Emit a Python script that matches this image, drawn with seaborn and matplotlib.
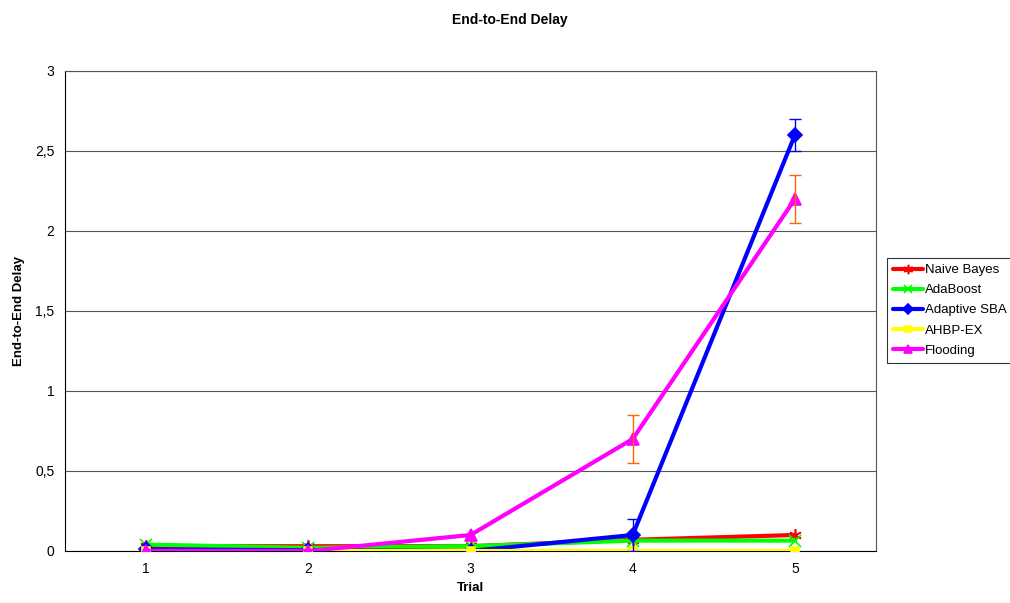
import pandas as pd
import seaborn as sns
import matplotlib.pyplot as plt

sns.set_style("white")
plt.rcParams['font.family'] = ['Liberation Sans', 'DejaVu Sans']
plt.rcParams['text.color'] = 'black'
plt.rcParams['axes.labelcolor'] = 'black'
plt.rcParams['xtick.color'] = 'black'
plt.rcParams['ytick.color'] = 'black'

trials = [1, 2, 3, 4, 5]
naive_bayes = [0.03, 0.03, 0.03, 0.07, 0.10]
adaboost = [0.04, 0.02, 0.03, 0.065, 0.065]
adaptive_sba = [0.01, 0.005, 0.0, 0.10, 2.60]
ahbp_ex = [0.0, 0.0, 0.0, 0.0, 0.0]
flooding = [0.0, 0.0, 0.10, 0.70, 2.20]

# error bars (only at trials 4 and 5)
sba_err = [0, 0, 0, 0.10, 0.10]
flood_err = [0, 0, 0, 0.15, 0.15]

series = ["Naive Bayes", "AdaBoost", "Adaptive SBA", "AHBP-EX", "Flooding"]
values = [naive_bayes, adaboost, adaptive_sba, ahbp_ex, flooding]
colors = ["#ff0000", "#00ff00", "#0000ff", "#ffff00", "#ff00ff"]
markers = [(6, 2, 0), "x", "D", "s", "^"]
msizes = [9, 8, 7, 6, 8]

rows = []
for name, vals in zip(series, values):
    for t, v in zip(trials, vals):
        rows.append({"Trial": t, "delay": v, "series": name})
df = pd.DataFrame(rows)

fig = plt.figure(figsize=(10.1, 6.03), dpi=100)
ax = fig.add_axes([65 / 1010, 1 - 551 / 603, (876 - 65) / 1010, (551 - 71) / 603])

for name, c, m, ms in zip(series, colors, markers, msizes):
    sub = df[df.series == name]
    sns.lineplot(data=sub, x="Trial", y="delay", ax=ax, color=c, lw=3,
                 marker=m, ms=ms, mec=c, mew=1.2,
                 label=name, zorder=3)

idx = [3, 4]
ax.errorbar([trials[i] for i in idx], [adaptive_sba[i] for i in idx],
            yerr=[sba_err[i] for i in idx], fmt="none", ecolor="#0000ff",
            elinewidth=1, capsize=4, zorder=4)
ax.errorbar([trials[i] for i in idx], [flooding[i] for i in idx],
            yerr=[flood_err[i] for i in idx], fmt="none", ecolor="#ff6600",
            elinewidth=1, capsize=4, zorder=4)

ax.set_xlim(0.5, 5.5)
ax.set_ylim(0, 3)
ax.set_xticks(trials)
ax.set_xticks([1.5, 2.5, 3.5, 4.5], minor=True)
ax.set_yticks([0, 0.5, 1, 1.5, 2, 2.5, 3])
ax.set_yticklabels(["0", "0,5", "1", "1,5", "2", "2,5", "3"])
ax.tick_params(axis="x", which="major", length=0, labelsize=10, pad=8)
ax.tick_params(axis="x", which="minor", length=4, direction="out", width=0.8)
ax.tick_params(axis="y", length=4, direction="out", width=0.8, labelsize=10)
ax.yaxis.grid(True, color="#555555", lw=0.8)
for s in ["top", "right"]:
    ax.spines[s].set_color("#555555")
    ax.spines[s].set_linewidth(0.8)
for s in ["left", "bottom"]:
    ax.spines[s].set_color("black")
    ax.spines[s].set_linewidth(0.8)

ax.set_xlabel("Trial", fontsize=9.5, fontweight="bold")
ax.set_ylabel("End-to-End Delay", fontsize=9.5, fontweight="bold", labelpad=7)
fig.text(510 / 1010, 1 - 20 / 603, "End-to-End Delay", ha="center", va="center",
         fontsize=10, fontweight="bold")

leg = ax.legend(loc="upper left", bbox_to_anchor=(887 / 1010, 1 - 258 / 603),
                bbox_transform=fig.transFigure, frameon=True, fancybox=False,
                fontsize=9.5, handlelength=2.3, borderpad=0.45, labelspacing=0.6,
                handletextpad=0.15, borderaxespad=0, markerscale=0.75)
leg.get_frame().set_edgecolor("black")
leg.get_frame().set_linewidth(0.8)

fig.savefig("out.png", dpi=100)
